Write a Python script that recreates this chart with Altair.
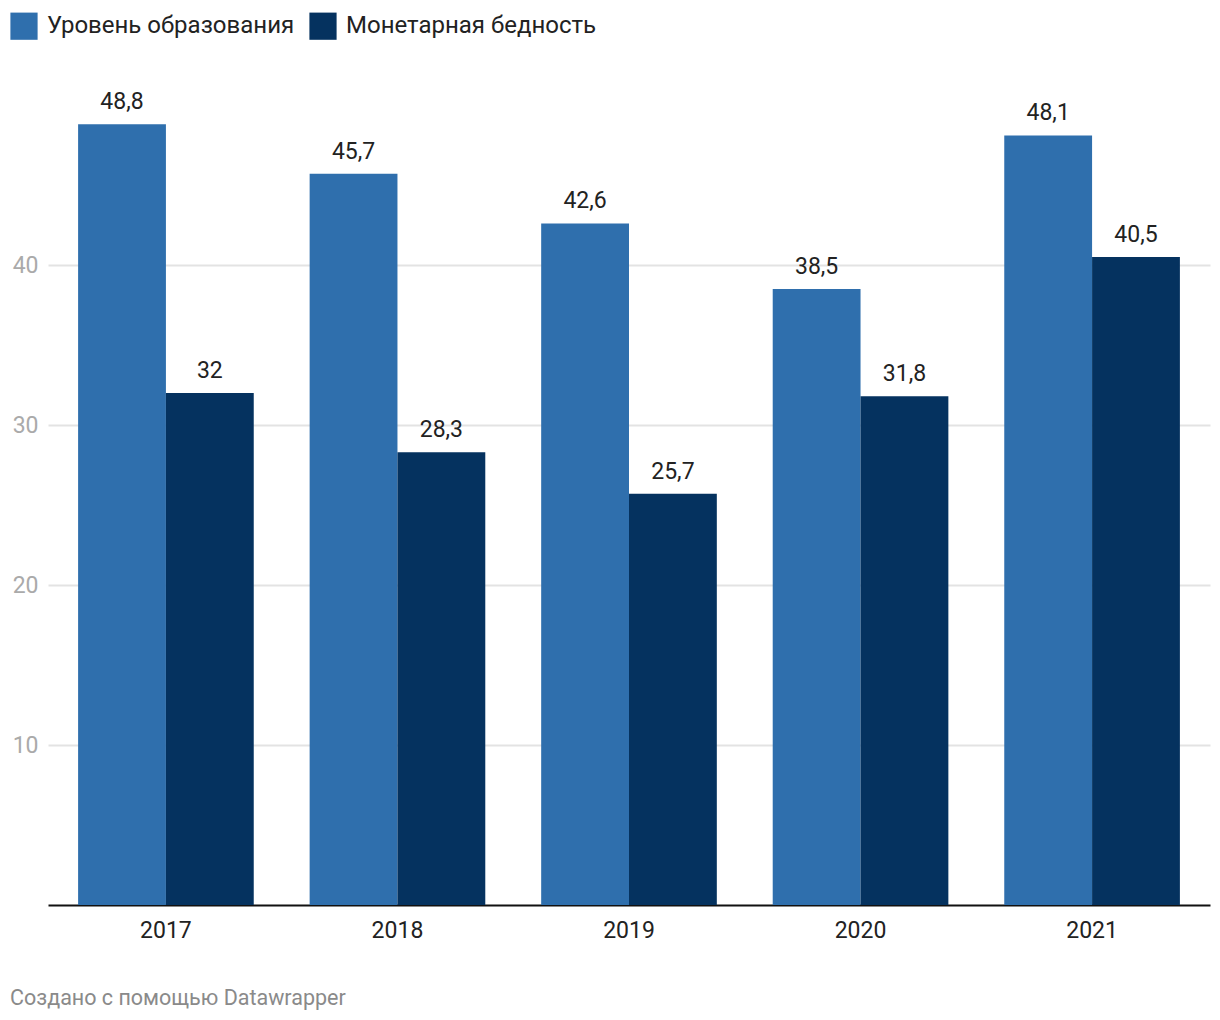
import altair as alt
import pandas as pd

years = ["2017", "2018", "2019", "2020", "2021"]
series = ["Уровень образования", "Монетарная бедность"]
education = [48.8, 45.7, 42.6, 38.5, 48.1]
poverty = [32, 28.3, 25.7, 31.8, 40.5]
colors = ["#2f6fad", "#05325f"]


def fmt(v):
    s = ("%g" % v)
    return s.replace(".", ",")


rows = []
for i, y in enumerate(years):
    rows.append({"year": y, "series": series[0], "value": education[i], "label": fmt(education[i])})
    rows.append({"year": y, "series": series[1], "value": poverty[i], "label": fmt(poverty[i])})
df = pd.DataFrame(rows)

FONT = "Roboto"

base = alt.Chart(df).encode(
    x=alt.X("year:N", sort=years, title=None,
            scale=alt.Scale(paddingInner=0.2414, paddingOuter=0.13),
            axis=alt.Axis(labelAngle=0, labelFont=FONT, labelFontSize=23, labelColor="#222",
                          labelPadding=14, ticks=False, domainColor="#111", domainWidth=2,
                          grid=False)),
    xOffset=alt.XOffset("series:N", sort=series),
)

bars = base.mark_bar().encode(
    y=alt.Y("value:Q", title=None, scale=alt.Scale(domain=[0, 50], nice=False),
            axis=alt.Axis(values=[10, 20, 30, 40], labelFont=FONT, labelFontSize=23,
                          labelColor="#aaaaaa", labelPadding=10, ticks=False, domain=False,
                          gridColor="#e3e3e3", gridWidth=2)),
    color=alt.Color("series:N", sort=series,
                    scale=alt.Scale(domain=series, range=colors),
                    legend=alt.Legend(title=None, orient="none", legendX=-38, legendY=-93,
                                      direction="horizontal", symbolType="square",
                                      symbolSize=740, symbolStrokeWidth=0, symbolOpacity=1,
                                      labelFont=FONT, labelFontSize=24, labelColor="#222",
                                      labelLimit=400, columnPadding=14, labelOffset=9)),
)

texts = base.mark_text(baseline="bottom", dy=-10, font=FONT, fontSize=23, color="#222").encode(
    y=alt.Y("value:Q"),
    text="label:N",
)

chart = alt.layer(bars, texts).properties(
    width=1162, height=800,
    padding={"left": 48, "top": 105, "right": 10, "bottom": 115},
    autosize=alt.AutoSizeParams(type="none"),
    title=alt.TitleParams("Создано с помощью Datawrapper", orient="bottom", anchor="start",
                          frame="group", dx=-38, offset=46, font=FONT, fontSize=21.5,
                          fontWeight="normal", color="#8a8a8a"),
).configure_view(stroke=None).configure_bar(binSpacing=0)

chart.save("out.html", embed_options={"renderer": "svg", "actions": False})
